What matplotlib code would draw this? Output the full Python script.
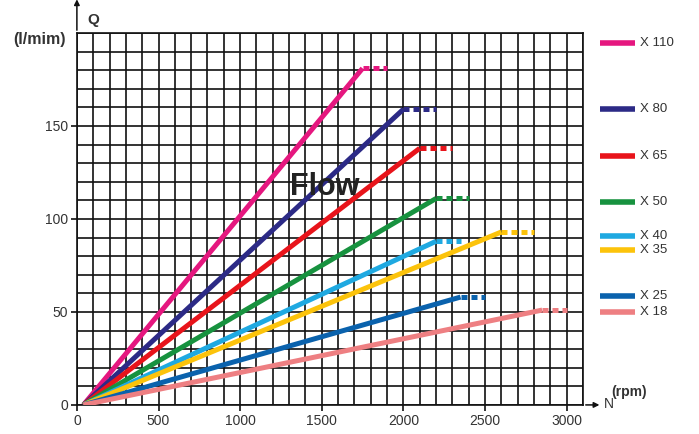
import numpy as np
import matplotlib.pyplot as plt
from matplotlib.lines import Line2D

plt.rcParams['font.family'] = ['Liberation Sans', 'DejaVu Sans']

# Pump models, rated speed (rpm) and flow (l/min) at rated speed
models = ['X 110', 'X 80', 'X 65', 'X 50', 'X 40', 'X 35', 'X 25', 'X 18']
colors = ['#e5177f', '#2c2a86', '#e8141b', '#17923f', '#1fa9e1', '#fcc30b', '#0a62ad', '#ee7f82']
n_start = 40
n_rated = [1750, 2000, 2100, 2200, 2200, 2600, 2350, 2850]
q_rated = [181, 159, 138, 111, 88, 93, 58, 51]
n_max = [1900, 2200, 2300, 2400, 2350, 2800, 2500, 3000]

x_ticks = [0, 500, 1000, 1500, 2000, 2500, 3000]
y_ticks = [0, 50, 100, 150]

fig = plt.figure(figsize=(6.99, 4.34), dpi=100)
ax = fig.add_axes([0.110, 0.067, 0.724, 0.857])

ax.set_xlim(0, 3100)
ax.set_ylim(0, 200)
ax.set_xticks(x_ticks)
ax.set_yticks(y_ticks)
ax.set_xticks(np.arange(0, 3101, 100), minor=True)
ax.set_yticks(np.arange(0, 201, 10), minor=True)
ax.grid(which='both', color='#111111', linewidth=1.2)
ax.set_axisbelow(True)
ax.tick_params(which='major', length=4, width=1.2, color='#111111',
               labelsize=10, labelcolor='#333333', pad=2.5)
ax.tick_params(which='minor', length=0)
for s in ax.spines.values():
    s.set_color('#111111')
    s.set_linewidth(1.2)

# flow lines: solid up to rated speed, dotted up to max speed
for i in range(len(models)):
    ax.plot([n_start, n_rated[i]], [0, q_rated[i]], color=colors[i], lw=3.6,
            solid_capstyle='butt', zorder=3)
    ax.plot([n_rated[i], n_max[i]], [q_rated[i], q_rated[i]], color=colors[i], lw=3.6,
            linestyle=(0, (1.2, 0.8)), dash_capstyle='butt', zorder=3)

# axis arrows
ax.annotate('', xy=(0, 1.098), xytext=(0, 1.0), xycoords='axes fraction',
            arrowprops=dict(arrowstyle='-|>', color='#111111', lw=1.1, mutation_scale=8),
            annotation_clip=False)
ax.annotate('', xy=(1.038, 0), xytext=(1.0, 0), xycoords='axes fraction',
            arrowprops=dict(arrowstyle='-|>', color='#111111', lw=1.1, mutation_scale=8),
            annotation_clip=False)

fig.text(0.133, 0.954, 'Q', fontsize=11, fontweight='bold', color='#333333',
         ha='center', va='center')
fig.text(0.057, 0.908, '(l/mim)', fontsize=11.5, fontweight='bold', color='#333333',
         ha='center', va='center')
fig.text(0.900, 0.096, '(rpm)', fontsize=10, fontweight='bold', color='#333333',
         ha='center', va='center')
fig.text(0.871, 0.070, 'N', fontsize=10, color='#333333', ha='center', va='center')

ax.text(1520, 117, 'Flow', fontsize=22, fontweight='bold', color='#222222',
        ha='center', va='center', zorder=4)

# legend on the right
leg_y = [0.901, 0.749, 0.641, 0.535, 0.456, 0.424, 0.318, 0.281]
for i in range(len(models)):
    fig.add_artist(Line2D([0.858, 0.908], [leg_y[i], leg_y[i]], color=colors[i], lw=4,
                          solid_capstyle='butt'))
    fig.text(0.915, leg_y[i], models[i], fontsize=9.5, color='#333333', va='center', ha='left')

fig.savefig('out.png', dpi=100)
